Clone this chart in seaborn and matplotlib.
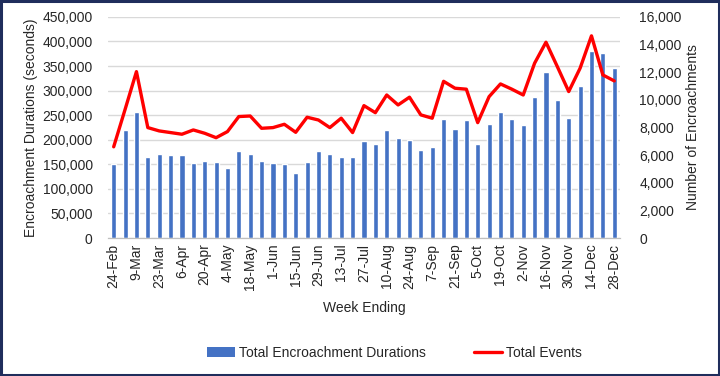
import numpy as np
import pandas as pd
import seaborn as sns
from matplotlib import pyplot as plt
from matplotlib.patches import Patch, Rectangle
from matplotlib.lines import Line2D
from matplotlib.ticker import FuncFormatter, MultipleLocator

weeks = ["24-Feb", "2-Mar", "9-Mar", "16-Mar", "23-Mar", "30-Mar", "6-Apr", "13-Apr", "20-Apr",
         "27-Apr", "4-May", "11-May", "18-May", "25-May", "1-Jun", "8-Jun", "15-Jun", "22-Jun",
         "29-Jun", "6-Jul", "13-Jul", "20-Jul", "27-Jul", "3-Aug", "10-Aug", "17-Aug", "24-Aug",
         "31-Aug", "7-Sep", "14-Sep", "21-Sep", "28-Sep", "5-Oct", "12-Oct", "19-Oct", "26-Oct",
         "2-Nov", "9-Nov", "16-Nov", "23-Nov", "30-Nov", "7-Dec", "14-Dec", "21-Dec", "28-Dec"]

durations = [150000, 220000, 257000, 165000, 171000, 169000, 169000, 153000, 157000,
             154000, 142500, 177000, 171000, 156000, 152000, 150000, 132000, 155000,
             177000, 172000, 165000, 165000, 198000, 191000, 220500, 204000, 199500,
             180000, 185000, 243000, 222000, 240000, 191000, 232000, 256000, 242000,
             231000, 288000, 338000, 281000, 245000, 310000, 381000, 377000, 346000]

events = [6600, 9300, 12040, 7990, 7750, 7630, 7510, 7820, 7580,
          7260, 7700, 8790, 8830, 7940, 7990, 8230, 7650, 8740,
          8540, 7990, 8670, 7630, 9580, 9070, 10350, 9630, 10190,
          8910, 8670, 11340, 10840, 10770, 8350, 10230, 11150, 10770,
          10350, 12650, 14170, 12400, 10600, 12290, 14630, 11800, 11370]

df = pd.DataFrame({"week": weeks, "duration": durations, "events": events})
df["pos"] = np.arange(len(df))

sns.set_style("white")
plt.rcParams["font.family"] = ["Liberation Sans", "DejaVu Sans"]

bar_color = "#4472C4"
line_color = "#FF0000"
text_color = "#262626"

fig = plt.figure(figsize=(7.2, 3.76), dpi=100)
ax = fig.add_axes([0.15, 0.367, 0.711, 0.588])

sns.barplot(data=df, x="pos", y="duration", color=bar_color, width=0.45, saturation=1,
            ax=ax, zorder=2)
ax.set_xlim(-0.5, len(df) - 0.5)
ax.set_ylim(0, 450000)
ax.yaxis.set_major_locator(MultipleLocator(50000))
ax.yaxis.set_major_formatter(FuncFormatter(lambda v, p: f"{int(v):,}"))
ax.grid(axis="y", color="#D9D9D9", linewidth=1, zorder=0)
ax.set_axisbelow(True)

ax2 = ax.twinx()
sns.lineplot(data=df, x="pos", y="events", color=line_color, linewidth=2.4, ax=ax2, zorder=3)
ax2.set_ylim(0, 16000)
ax2.yaxis.set_major_locator(MultipleLocator(2000))
ax2.yaxis.set_major_formatter(FuncFormatter(lambda v, p: f"{int(v):,}"))
ax2.set_xlim(-0.5, len(df) - 0.5)

# x tick labels every other week, with boundary tick marks
ax.set_xticks(df["pos"][::2])
ax.set_xticklabels(df["week"][::2], rotation=90)
ax.set_xticks(np.arange(-0.5, len(df), 1.0), minor=True)
ax.tick_params(axis="x", which="major", length=0, pad=4, labelsize=10, labelcolor=text_color)
ax.tick_params(axis="x", which="minor", length=4, color="#BFBFBF", width=0.8, direction="out")
ax.tick_params(axis="y", length=0, pad=11, labelsize=10, labelcolor=text_color)
ax2.tick_params(axis="y", length=0, pad=14, labelsize=10, labelcolor=text_color)

for a in (ax, ax2):
    for side in ("top", "left", "right"):
        a.spines[side].set_visible(False)
    a.spines["bottom"].set_color("#BFBFBF")
    a.spines["bottom"].set_linewidth(0.8)

ax.set_xlabel("Week Ending", fontsize=10, color=text_color, labelpad=8)
ax.set_ylabel("Encroachment Durations (seconds)", fontsize=10, color=text_color, labelpad=3)
ax2.set_ylabel("Number of Encroachments", fontsize=10, color=text_color, labelpad=3)

handles = [Patch(facecolor=bar_color, edgecolor="none"),
           Line2D([0], [0], color=line_color, linewidth=2.4)]
fig.legend(handles, ["Total Encroachment Durations", "Total Events"], loc="center",
           bbox_to_anchor=(0.548, 0.062), ncol=2, frameon=False, fontsize=10,
           handlelength=2.0, handletextpad=0.3, columnspacing=3.5, labelcolor=text_color)

fig.patches.append(Rectangle((0.0015, 0.003), 0.997, 0.994, transform=fig.transFigure,
                             fill=False, edgecolor="#1F2D5C", linewidth=2.2))

fig.savefig("out.png", dpi=100)
